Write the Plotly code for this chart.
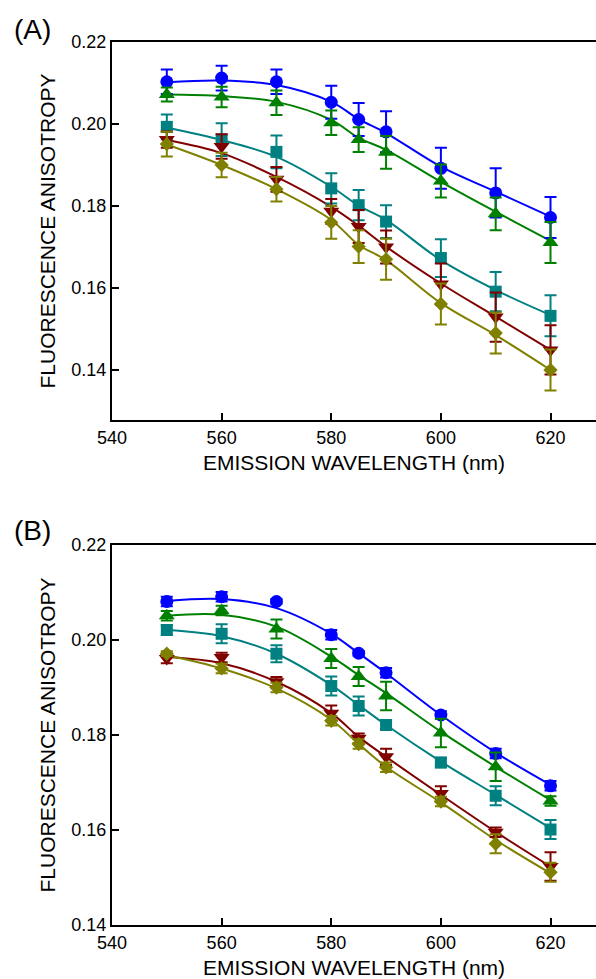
import plotly.graph_objects as go

# ---------------- data ----------------
wavelength = [550, 560, 570, 580, 585, 590, 600, 610, 620]

series_names = ["s1", "s2", "s3", "s4", "s5"]
colors = ["#0000FF", "#008000", "#008080", "#800000", "#808000"]
symbols = ["circle", "triangle-up", "square", "triangle-down", "diamond"]
sizes = [13, 14, 12, 14, 11]

# Panel A – measured points
a_blue = [0.2103, 0.2112, 0.2103, 0.2053, 0.2011, 0.1981, 0.1892, 0.1832, 0.1772]
a_green = [0.2072, 0.2066, 0.2052, 0.2003, 0.1962, 0.1931, 0.1861, 0.1781, 0.1711]
a_teal = [0.1993, 0.1962, 0.1932, 0.1843, 0.1802, 0.1762, 0.1673, 0.1591, 0.1532]
a_red = [0.1962, 0.1945, 0.1865, 0.1787, 0.1750, 0.1700, 0.1610, 0.1529, 0.1449]
a_olive = [0.1951, 0.1900, 0.1841, 0.1760, 0.1701, 0.1670, 0.1561, 0.1490, 0.1400]

a_blue_err = [0.003, 0.003, 0.003, 0.004, 0.004, 0.005, 0.005, 0.006, 0.005]
a_green_err = [0.0017, 0.0025, 0.003, 0.003, 0.003, 0.004, 0.004, 0.004, 0.005]
a_teal_err = [0.003, 0.004, 0.004, 0.0037, 0.0037, 0.004, 0.0046, 0.0048, 0.005]
a_red_err = [0.002, 0.003, 0.003, 0.003, 0.004, 0.004, 0.005, 0.006, 0.006]
a_olive_err = [0.003, 0.003, 0.003, 0.004, 0.004, 0.005, 0.005, 0.005, 0.005]

# Panel A – fitted curves (at the same wavelengths)
a_blue_fit = [0.2102, 0.2106, 0.2095, 0.2054, 0.2012, 0.1978, 0.1896, 0.1835, 0.1774]
a_green_fit = [0.2072, 0.2068, 0.2054, 0.2010, 0.1966, 0.1937, 0.1859, 0.1786, 0.1715]
a_teal_fit = [0.1991, 0.1961, 0.1920, 0.1847, 0.1801, 0.1766, 0.1668, 0.1595, 0.1534]
a_red_fit = [0.1961, 0.1929, 0.1871, 0.1798, 0.1752, 0.1701, 0.1611, 0.1530, 0.1449]
a_olive_fit = [0.1950, 0.1900, 0.1841, 0.1766, 0.1705, 0.1668, 0.1563, 0.1485, 0.1400]

# Panel B – measured points
b_blue = [0.2081, 0.2091, 0.2081, 0.2011, 0.1972, 0.1931, 0.1842, 0.1761, 0.1693]
b_green = [0.2051, 0.2062, 0.2023, 0.1961, 0.1923, 0.1882, 0.1804, 0.1733, 0.1661]
b_teal = [0.2021, 0.2013, 0.1971, 0.1903, 0.1861, 0.1821, 0.1742, 0.1672, 0.1601]
b_red = [0.1961, 0.1963, 0.1912, 0.1846, 0.1793, 0.1754, 0.1677, 0.1595, 0.1523]
b_olive = [0.1971, 0.1940, 0.1900, 0.1830, 0.1781, 0.1732, 0.1660, 0.1571, 0.1511]

b_blue_err = [0.001, 0.001, 0.0005, 0.001, 0.0005, 0.001, 0.0008, 0.001, 0.001]
b_green_err = [0.001, 0.001, 0.002, 0.002, 0.002, 0.003, 0.003, 0.003, 0.001]
b_teal_err = [0.001, 0.002, 0.0018, 0.002, 0.002, 0.001, 0.001, 0.002, 0.002]
b_red_err = [0.001, 0.001, 0.001, 0.0016, 0.001, 0.0017, 0.0015, 0.001, 0.003]
b_olive_err = [0.0005, 0.001, 0.001, 0.001, 0.001, 0.001, 0.001, 0.002, 0.002]

# Panel B – fitted curves
b_blue_fit = [0.2082, 0.2086, 0.2067, 0.2013, 0.1972, 0.1930, 0.1842, 0.1763, 0.1695]
b_green_fit = [0.2051, 0.2053, 0.2028, 0.1965, 0.1926, 0.1888, 0.1807, 0.1733, 0.1663]
b_teal_fit = [0.2021, 0.2008, 0.1971, 0.1905, 0.1863, 0.1821, 0.1744, 0.1674, 0.1604]
b_red_fit = [0.1964, 0.1951, 0.1912, 0.1846, 0.1796, 0.1754, 0.1674, 0.1596, 0.1523]
b_olive_fit = [0.1968, 0.1940, 0.1898, 0.1832, 0.1781, 0.1733, 0.1658, 0.1579, 0.1509]

x_ticks = [540, 560, 580, 600, 620]
y_ticks = [0.14, 0.16, 0.18, 0.20, 0.22]
x_title = "EMISSION WAVELENGTH (nm)"
y_title = "FLUORESCENCE ANISOTROPY"
panel_labels = ["(A)", "(B)"]

# ---------------- figure ----------------
FONT = "Arial, Liberation Sans, Helvetica, sans-serif"
fig = go.Figure()

panels = [
    ("x", "y", [a_blue, a_green, a_teal, a_red, a_olive],
     [a_blue_err, a_green_err, a_teal_err, a_red_err, a_olive_err],
     [a_blue_fit, a_green_fit, a_teal_fit, a_red_fit, a_olive_fit]),
    ("x2", "y2", [b_blue, b_green, b_teal, b_red, b_olive],
     [b_blue_err, b_green_err, b_teal_err, b_red_err, b_olive_err],
     [b_blue_fit, b_green_fit, b_teal_fit, b_red_fit, b_olive_fit]),
]

for xa, ya, pts, errs, fits in panels:
    for i in range(5):
        fig.add_trace(go.Scatter(
            x=wavelength, y=fits[i], mode="lines", xaxis=xa, yaxis=ya,
            line=dict(color=colors[i], width=2, shape="spline", smoothing=1.0),
            hoverinfo="skip", showlegend=False))
    for i in range(5):
        fig.add_trace(go.Scatter(
            x=wavelength, y=pts[i], mode="markers", xaxis=xa, yaxis=ya,
            name=series_names[i],
            marker=dict(color=colors[i], symbol=symbols[i], size=sizes[i],
                        line=dict(width=0)),
            error_y=dict(type="data", array=errs[i], visible=True,
                         color=colors[i], thickness=2, width=6),
            showlegend=False))

axis_common = dict(
    showline=True, linecolor="black", linewidth=2,
    ticks="inside", ticklen=7, tickwidth=2, tickcolor="black",
    showgrid=False, zeroline=False,
    tickfont=dict(family=FONT, size=18, color="black"),
)

fig.update_layout(
    width=596, height=979,
    margin=dict(l=112, r=0, t=42, b=54),
    paper_bgcolor="white", plot_bgcolor="white",
    font=dict(family=FONT, color="black"),
    showlegend=False,
    xaxis=dict(domain=[0, 1], anchor="y", range=[540, 628.3], tickvals=x_ticks,
               mirror=True,
               title=dict(text=x_title, font=dict(family=FONT, size=21), standoff=9),
               **axis_common),
    yaxis=dict(domain=[0.5719, 1], anchor="x", range=[0.1278, 0.22], tickvals=y_ticks,
               tickformat=".2f",
               title=dict(text=y_title, font=dict(family=FONT, size=21), standoff=10),
               **axis_common),
    xaxis2=dict(domain=[0, 1], anchor="y2", range=[540, 628.3], tickvals=x_ticks,
                mirror=True,
                title=dict(text=x_title, font=dict(family=FONT, size=21), standoff=9),
                **axis_common),
    yaxis2=dict(domain=[0, 0.4304], anchor="x2", range=[0.14, 0.22], tickvals=y_ticks,
                tickformat=".2f",
                title=dict(text=y_title, font=dict(family=FONT, size=21), standoff=10),
                **axis_common),
)

fig.add_annotation(text=panel_labels[0], xref="paper", yref="paper",
                   x=-0.2066, y=1.0141, xanchor="left", yanchor="middle",
                   showarrow=False, font=dict(family=FONT, size=28, color="black"))
fig.add_annotation(text=panel_labels[1], xref="paper", yref="paper",
                   x=-0.2066, y=(925 - 530) / 883, xanchor="left", yanchor="middle",
                   showarrow=False, font=dict(family=FONT, size=28, color="black"))

fig.write_html("out.html")
